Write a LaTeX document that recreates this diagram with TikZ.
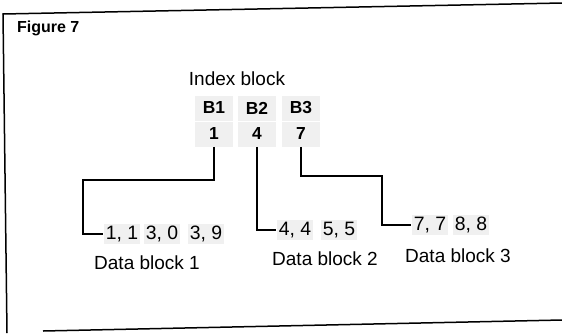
\documentclass[tikz,border=0pt]{standalone}
\usepackage{fontspec}
\setmainfont{Liberation Sans}
\usetikzlibrary{calc}
\tikzset{
	cell/.style={fill=gray!12, inner sep=1pt},
	idx/.style={cell, font=\fontsize{8.7}{10}\selectfont\bfseries, minimum width=19pt, minimum height=12.5pt},
	pair/.style={cell, font=\fontsize{9.7}{11}\selectfont},
	lbl/.style={font=\fontsize{9.5}{11}\selectfont},
	link/.style={line width=0.6pt}
}

\begin{document}
\begin{tikzpicture}[x=0.5pt,y=-0.5pt]
		\useasboundingbox (0,0) rectangle (562,333);

		% frame
		\draw[line width=0.75pt] (562,3) -- (3,14) -- (7,333);
		\draw[line width=0.75pt] (43,331) -- (562,320);
		\node[anchor=west, font=\fontsize{8}{9}\selectfont\bfseries] (fig) at (10,28) {Figure 7};

		% index block
		\node[lbl] (index) at (237,79) {Index block};
		\foreach \i/\x/\v in {1/214/1, 2/257/4, 3/301/7} {
			\node[idx] (b\i) at (\x,108) {B\i};
			\node[idx] (n\i) at (\x,134) {\v};
		}

		% data blocks
		\node[pair] (p11) at (122,234) {1, 1};
		\node[pair] (p12) at (162,234) {3, 0};
		\node[pair] (p13) at (206,234) {3, 9};
		\node[pair] (p21) at (295,230) {4, 4};
		\node[pair] (p22) at (339,230) {5, 5};
		\node[pair] (p31) at (430,225) {7, 7};
		\node[pair] (p32) at (471,225) {8, 8};

		\node[lbl] (d1) at (147,263) {Data block 1};
		\node[lbl] (d2) at (325,259) {Data block 2};
		\node[lbl] (d3) at (458,256) {Data block 3};

		% links
		\coordinate (j1) at (83,180);
		\coordinate (j3) at (382,176);
		\draw[link] (n1.south) |- (j1) |- (p11.west);
		\draw[link] (n2.south) |- (p21.west);
		\draw[link] (n3.south) |- (j3) |- (p31.west);

	\end{tikzpicture}
\end{document}
